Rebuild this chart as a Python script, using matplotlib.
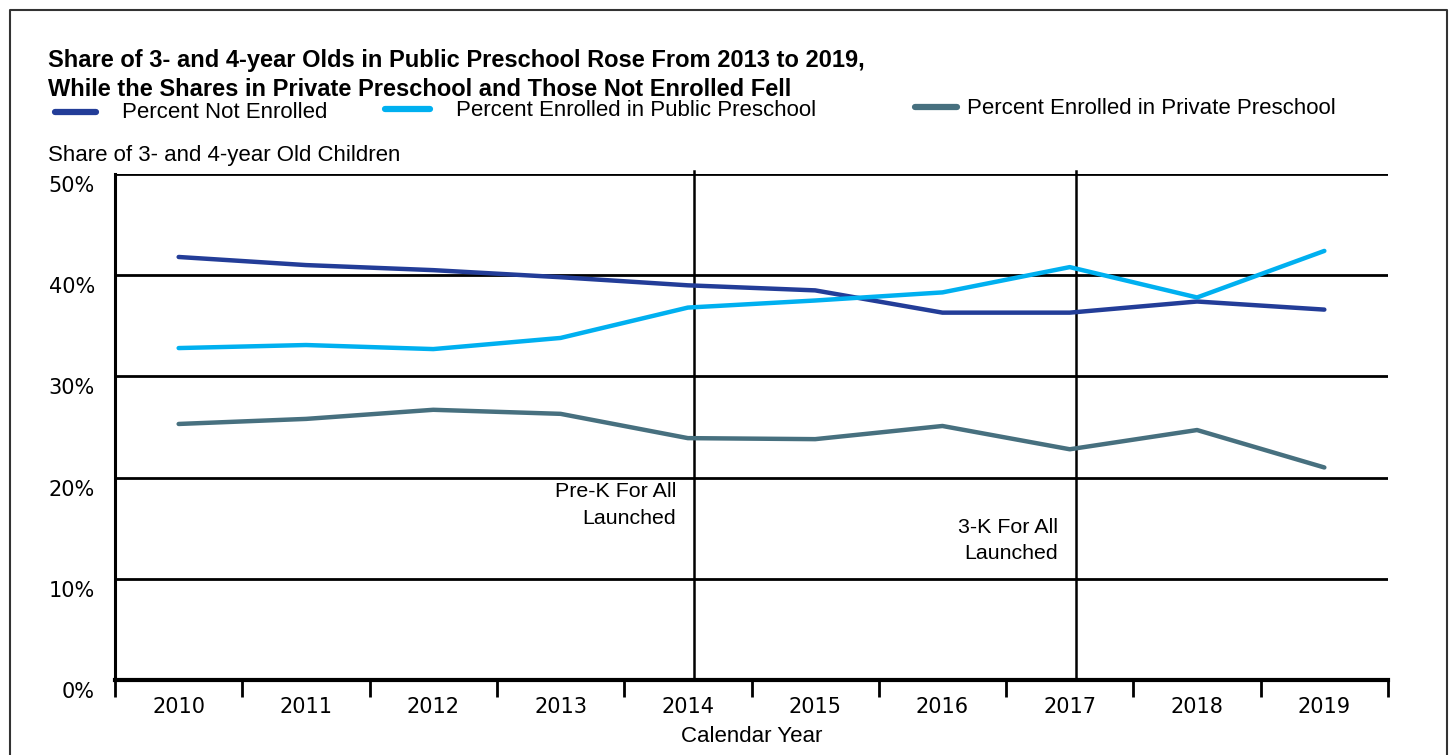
import matplotlib
matplotlib.use("Agg")
import matplotlib.pyplot as plt
import matplotlib.transforms as mtransforms
from matplotlib.lines import Line2D
import numpy as np

years = [2010, 2011, 2012, 2013, 2014, 2015, 2016, 2017, 2018, 2019]
not_enrolled = [41.8, 41.0, 40.5, 39.8, 39.0, 38.5, 36.3, 36.3, 37.4, 36.6]
public_pre = [32.8, 33.1, 32.7, 33.8, 36.8, 37.5, 38.3, 40.8, 37.8, 42.4]
private_pre = [25.3, 25.8, 26.7, 26.3, 23.9, 23.8, 25.1, 22.8, 24.7, 21.0]
series_names = ['Percent Not Enrolled', 'Percent Enrolled in Public Preschool',
                'Percent Enrolled in Private Preschool']
colors = ['#233d98', '#00b0f0', '#47707f']
y_ticks = [0, 10, 20, 30, 40, 50]
events = [(2014, 'Pre-K For All\nLaunched', 17.3),
          (2017, '3-K For All\nLaunched', 13.8)]

plain = ['Liberation Sans', 'DejaVu Sans']

fig = plt.figure(figsize=(14.5, 7.55), dpi=100)
ax = fig.add_axes([115 / 1450, 1 - 680 / 755, 1273 / 1450, 506 / 755])

x = np.arange(len(years))
for vals, c in zip([not_enrolled, public_pre, private_pre], colors):
    ax.plot(x, vals, color=c, lw=3.2, solid_capstyle='round', zorder=3)

ax.set_xlim(-0.5, len(years) - 0.5)
ax.set_ylim(0, 50)

# grid
for v in y_ticks[1:]:
    ax.axhline(v, color='black', lw=2, zorder=1)

# event lines and notes
for yr, label, ypos in events:
    xi = years.index(yr) + 0.05
    ax.axvline(xi, ymin=0, ymax=1.005, color='black', lw=1.8, clip_on=False, zorder=2)
    ax.text(xi - 0.14, ypos, label, ha='right', va='center', fontsize=15.4,
            family=plain, linespacing=1.5)

for s in ['top', 'right']:
    ax.spines[s].set_visible(False)
ax.spines['left'].set_linewidth(2.2)
ax.spines['bottom'].set_linewidth(3)

ax.set_yticks(y_ticks)
ax.set_yticklabels([f'{v}%' for v in y_ticks], fontsize=15, family='DejaVu Sans')
ax.tick_params(axis='y', length=0, pad=14.4)
offset = mtransforms.ScaledTranslation(0, -10 / 100, fig.dpi_scale_trans)
for lab in ax.get_yticklabels():
    lab.set_transform(lab.get_transform() + offset)

ax.set_xticks(x)
ax.set_xticklabels([str(y) for y in years], fontsize=15, family='DejaVu Sans')
ax.set_xticks(np.arange(-0.5, len(years)), minor=True)
ax.tick_params(axis='x', which='major', length=0, pad=12)
ax.tick_params(axis='x', which='minor', length=12, width=2, direction='out')
ax.set_xlabel('Calendar Year', fontsize=16, family=plain, labelpad=7)

# titles
fig.text(48 / 1450, 1 - 60 / 755, 'Share of 3- and 4-year Olds in Public Preschool Rose From 2013 to 2019,',
         fontsize=17, fontweight='bold', family=plain, va='center')
fig.text(48 / 1450, 1 - 90 / 755, 'While the Shares in Private Preschool and Those Not Enrolled Fell',
         fontsize=17, fontweight='bold', family=plain, va='center')
fig.text(48 / 1450, 1 - 155 / 755, 'Share of 3- and 4-year Old Children',
         fontsize=16, family=plain, va='center')

# legend
leg_pos = [(55, 96, 122, 112), (385, 430, 456, 109), (915, 957, 967, 107)]
for (x0, x1, tx, yy), name, c in zip(leg_pos, series_names, colors):
    fig.add_artist(Line2D([x0 / 1450, x1 / 1450], [1 - yy / 755, 1 - yy / 755],
                          color=c, lw=4.5, solid_capstyle='round'))
    fig.text(tx / 1450, 1 - (yy + 1) / 755, name, fontsize=16, family=plain, va='center')

# outer frame
fig.add_artist(Line2D([10 / 1450, 10 / 1450, 1447 / 1450, 1447 / 1450],
                      [0, 1 - 10 / 755, 1 - 10 / 755, 0], color='#333333', lw=1.5))

fig.savefig('out.png', dpi=100)
